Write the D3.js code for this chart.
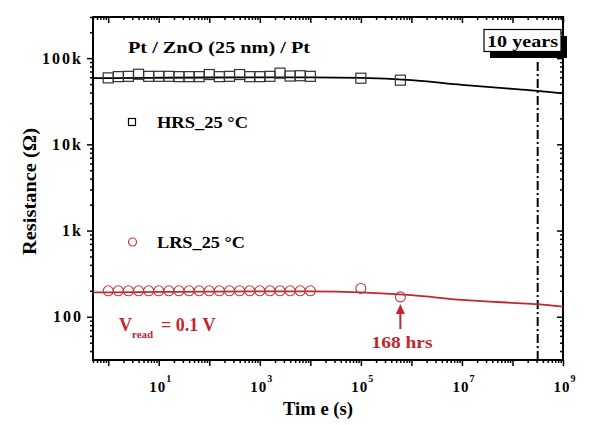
<!DOCTYPE html>
<html><head><meta charset="utf-8">
<script src="https://cdn.jsdelivr.net/npm/d3@7"></script>
<style>
body{margin:0;background:#fff}
text{font-family:"Liberation Serif","Times New Roman",serif;font-weight:bold}
</style>
</head><body>
<svg id="c" width="600" height="425"></svg>
<script>
// ---- data ----
const measTime = [1,1.585,2.512,3.981,6.31,10,15.85,25.12,39.81,63.1,100,158.5,251.2,398.1,631,1000,1585,2512,3981,6310,10000,100000,604800];
const hrsValues = [59000,61000,61500,65000,61500,61500,61500,61000,61000,61000,64500,61000,61500,64500,61000,61000,61500,67000,62000,62500,61500,58500,55500];
const lrsValues = [200,200,200,200,200,200,200,200,200,200,200,200,200,200,200,200,200,200,200,200,200,213,170];
const fitTime = [0.5,1,10,100,1e3,1e4,1e5,1e6,1e7,1e8,3.16e8,1e9];
const hrsFit = [58500,58700,59200,59600,59800,59800,59000,55500,49000,44000,41800,39000];
const lrsFit = [192,192,194,196,197,197,192,178,157,145,140,131];
const xMajorExps = [0,1,2,3,4,5,6,7,8,9];
const xLabelExps = [1,3,5,7,9];
const yMajor = [100,1000,10000,100000];
const yLabels = ["100","1k","10k","100k"];
const tenYears = 3.156e8;

// ---- layout ----
const W=600,H=425, L=93, R=563, T=17, B=360;
const red = "#c1272d";
const svg = d3.select("#c");
const x = d3.scaleLog().domain([0.5,1e9]).range([L,R]);
const y = d3.scaleLog().domain([31.5,3e5]).range([B,T]);

function minors(lo,hi,e0,e1){const out=[];for(let e=e0;e<=e1;e++)for(let m=2;m<=9;m++){const v=m*10**e;if(v>=lo&&v<=hi)out.push(v);}return out;}
const xMinor = minors(0.5,1e9,-1,8);
const yMinor = minors(31.5,3e5,1,5);
const xMajor = xMajorExps.map(e=>10**e);

function styleAxis(g){g.select(".domain").remove();g.selectAll("line").attr("stroke","#000").attr("stroke-width",1.5);g.selectAll("text").remove();}
// bottom
svg.append("g").attr("transform",`translate(0,${B})`).call(d3.axisBottom(x).tickValues(xMajor).tickSize(6)).call(styleAxis);
svg.append("g").attr("transform",`translate(0,${B})`).call(d3.axisBottom(x).tickValues(xMinor).tickSize(3)).call(styleAxis);
// top (inward)
svg.append("g").attr("transform",`translate(0,${T})`).call(d3.axisTop(x).tickValues(xMajor).tickSize(-6)).call(styleAxis);
svg.append("g").attr("transform",`translate(0,${T})`).call(d3.axisTop(x).tickValues(xMinor).tickSize(-3)).call(styleAxis);
// left
svg.append("g").attr("transform",`translate(${L},0)`).call(d3.axisLeft(y).tickValues(yMajor).tickSize(6)).call(styleAxis);
svg.append("g").attr("transform",`translate(${L},0)`).call(d3.axisLeft(y).tickValues(yMinor).tickSize(3)).call(styleAxis);
// right (inward)
svg.append("g").attr("transform",`translate(${R},0)`).call(d3.axisRight(y).tickValues(yMajor).tickSize(-6)).call(styleAxis);
svg.append("g").attr("transform",`translate(${R},0)`).call(d3.axisRight(y).tickValues(yMinor).tickSize(-3)).call(styleAxis);

// frame
svg.append("rect").attr("x",L).attr("y",T).attr("width",R-L).attr("height",B-T)
  .attr("fill","none").attr("stroke","#000").attr("stroke-width",2);

// x labels
const xl = svg.selectAll(".xl").data(xLabelExps).enter().append("text")
  .attr("x",e=>x(10**e)+2).attr("y",392).attr("text-anchor","middle")
  .attr("font-size",15).attr("letter-spacing",1);
xl.append("tspan").text("10");
xl.append("tspan").attr("font-size",10).attr("dy",-10).text(e=>e);

// y labels
svg.selectAll(".yl").data(yMajor).enter().append("text")
  .attr("x",83).attr("y",d=>y(d)+5.5).attr("text-anchor","end")
  .attr("font-size",16).attr("letter-spacing",2).text((d,i)=>yLabels[i]);

// axis titles
svg.append("text").attr("x",283).attr("y",415).attr("font-size",18)
  .attr("textLength",70).attr("lengthAdjust","spacingAndGlyphs").text("Tim e (s)");
svg.append("text").attr("transform","translate(36,191.5) rotate(-90)").attr("text-anchor","middle")
  .attr("font-size",18).attr("textLength",127).attr("lengthAdjust","spacingAndGlyphs").text("Resistance (Ω)");

// 10 years line
svg.append("line").attr("x1",x(tenYears)).attr("x2",x(tenYears)).attr("y1",62).attr("y2",B)
  .attr("stroke","#000").attr("stroke-width",2).attr("stroke-dasharray","9,3,2,3");

// fit lines
const line = d3.line().x(d=>x(d[0])).y(d=>y(d[1])).curve(d3.curveMonotoneX);
svg.append("path").datum(fitTime.map((t,i)=>[t,hrsFit[i]])).attr("d",line)
  .attr("fill","none").attr("stroke","#000").attr("stroke-width",1.8);
svg.append("path").datum(fitTime.map((t,i)=>[t,lrsFit[i]])).attr("d",line)
  .attr("fill","none").attr("stroke",red).attr("stroke-width",1.8);

// markers
svg.selectAll(".sq").data(measTime).enter().append("rect")
  .attr("x",(d)=>x(d)-5).attr("y",(d,i)=>y(hrsValues[i])-5).attr("width",10).attr("height",10)
  .attr("fill","none").attr("stroke","#333").attr("stroke-width",1.2);
svg.selectAll(".ci").data(measTime).enter().append("circle")
  .attr("cx",d=>x(d)).attr("cy",(d,i)=>y(lrsValues[i])).attr("r",5)
  .attr("fill","none").attr("stroke","#b83a3e").attr("stroke-width",1.1);

// title text
svg.append("text").attr("x",128).attr("y",53).attr("font-size",16)
  .attr("textLength",182).attr("lengthAdjust","spacingAndGlyphs").text("Pt / ZnO (25 nm) / Pt");

// legend
svg.append("rect").attr("x",128.5).attr("y",118.5).attr("width",7).attr("height",7)
  .attr("fill","none").attr("stroke","#000").attr("stroke-width",1.2);
svg.append("text").attr("x",157).attr("y",128).attr("font-size",17)
  .attr("textLength",91).attr("lengthAdjust","spacingAndGlyphs").text("HRS_25 °C");
svg.append("circle").attr("cx",132.5).attr("cy",242).attr("r",4)
  .attr("fill","none").attr("stroke","#b83a3e").attr("stroke-width",1.2);
svg.append("text").attr("x",157).attr("y",247.5).attr("font-size",17)
  .attr("textLength",88).attr("lengthAdjust","spacingAndGlyphs").text("LRS_25 °C");

// 10 years box
svg.append("rect").attr("x",490).attr("y",36).attr("width",77).attr("height",22).attr("fill","#000");
svg.append("rect").attr("x",484).attr("y",29.5).attr("width",77).attr("height",22)
  .attr("fill","#fff").attr("stroke","#000").attr("stroke-width",1.2);
svg.append("text").attr("x",522.5).attr("y",46.5).attr("text-anchor","middle").attr("font-size",17)
  .attr("textLength",71).attr("lengthAdjust","spacingAndGlyphs").text("10 years");

// V_read
const vt = svg.append("text").attr("x",119).attr("y",331).attr("fill",red).attr("font-size",18);
vt.append("tspan").text("V");
vt.append("tspan").attr("font-size",11).attr("dy",7).text("read");
vt.append("tspan").attr("dy",-7).attr("x",161).text("= 0.1 V");

// 168 hrs arrow
const ax = x(604800);
svg.append("line").attr("x1",ax).attr("x2",ax).attr("y1",329).attr("y2",312)
  .attr("stroke",red).attr("stroke-width",2);
svg.append("path").attr("d",`M${ax-4.5},314 L${ax+4.5},314 L${ax},304 Z`).attr("fill",red);
svg.append("text").attr("x",402).attr("y",348).attr("text-anchor","middle").attr("fill",red).attr("font-size",17)
  .attr("textLength",61).attr("lengthAdjust","spacingAndGlyphs").text("168 hrs");
</script>
</body></html>
